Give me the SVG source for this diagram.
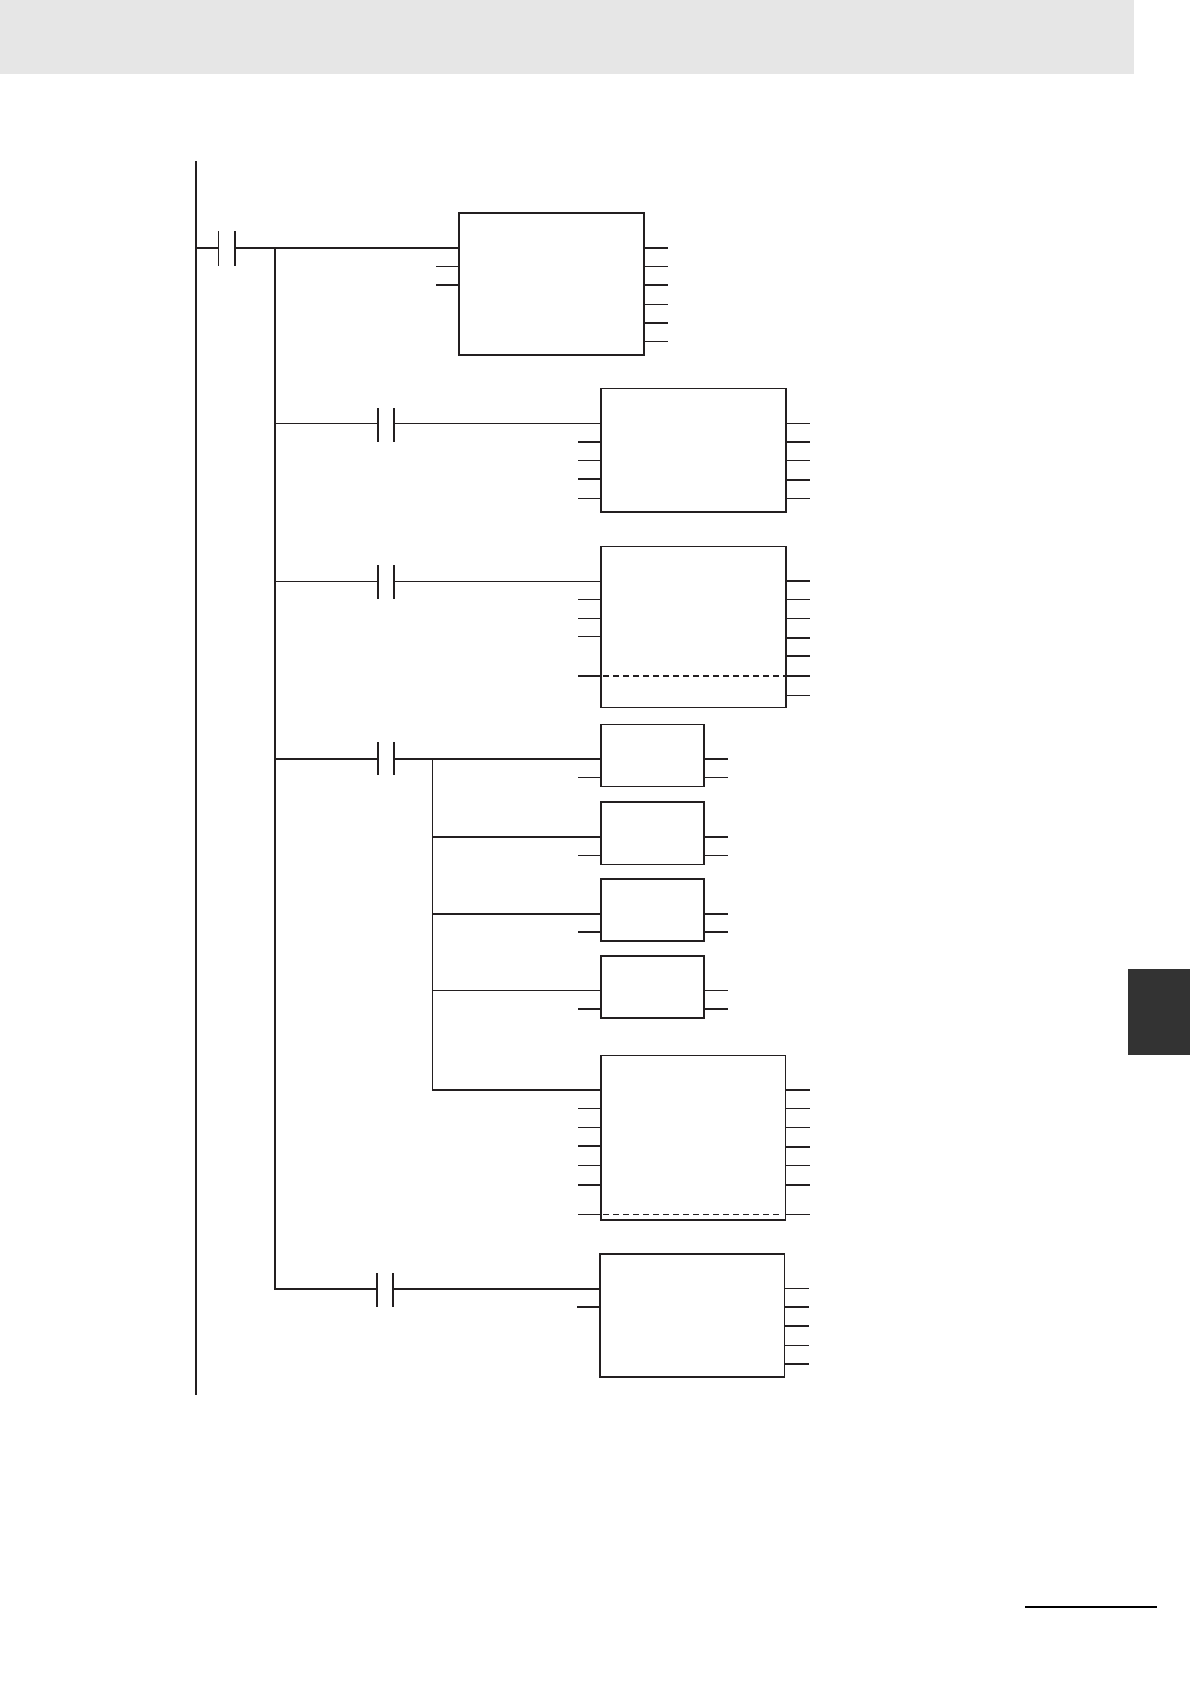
<svg xmlns="http://www.w3.org/2000/svg" width="1190" height="1684" viewBox="0 0 1190 1684">
<style>
line{fill:none;stroke:#231f20}
.n{stroke-width:1}
.k{stroke-width:2}
.s{stroke-linecap:square}
rect.f{fill:#fff;stroke:none}
.d{stroke-dasharray:6 4}
</style>
<rect width="1190" height="1684" fill="#fff"/>
<rect id="header-band" x="0" y="0" width="1134" height="74" fill="#e6e6e6"/>
<rect id="side-tab" x="1128" y="969" width="62" height="86" fill="#333333"/>
<line id="footer-rule" x1="1025" y1="1607" x2="1157" y2="1607" stroke-width="2" style="stroke:#000"/>
<g id="connectors">
<line class="k" x1="196" y1="161" x2="196" y2="1395"/>
<line class="k" x1="275" y1="247" x2="275" y2="1290"/>
<line class="n" x1="432.500" y1="759" x2="432.500" y2="1091"/>
<line class="k" x1="196" y1="248" x2="218" y2="248"/>
<line class="k" x1="235" y1="248" x2="459" y2="248"/>
<line class="n" x1="275" y1="423.500" x2="378" y2="423.500"/>
<line class="n" x1="394" y1="423.500" x2="601" y2="423.500"/>
<line class="n" x1="275" y1="581.500" x2="378" y2="581.500"/>
<line class="n" x1="394" y1="581.500" x2="601" y2="581.500"/>
<line class="k" x1="275" y1="759" x2="378" y2="759"/>
<line class="k" x1="394" y1="759" x2="601" y2="759"/>
<line class="k" x1="432" y1="837" x2="601" y2="837"/>
<line class="k" x1="432" y1="914" x2="601" y2="914"/>
<line class="n" x1="432" y1="990.500" x2="601" y2="990.500"/>
<line class="k" x1="432" y1="1090" x2="601" y2="1090"/>
<line class="k" x1="275" y1="1289" x2="377" y2="1289"/>
<line class="k" x1="393" y1="1289" x2="600" y2="1289"/>
</g>
<g id="contact-1"><line class="n" x1="218.500" y1="231" x2="218.500" y2="266"/><line class="k" x1="235" y1="231" x2="235" y2="266"/></g>
<g id="contact-2"><line class="k" x1="378" y1="408" x2="378" y2="442"/><line class="k" x1="394" y1="408" x2="394" y2="442"/></g>
<g id="contact-3"><line class="k" x1="378" y1="565" x2="378" y2="599"/><line class="k" x1="394" y1="565" x2="394" y2="599"/></g>
<g id="contact-4"><line class="k" x1="378" y1="742" x2="378" y2="775"/><line class="k" x1="394" y1="742" x2="394" y2="775"/></g>
<g id="contact-5"><line class="k" x1="377" y1="1273" x2="377" y2="1307"/><line class="k" x1="393" y1="1273" x2="393" y2="1307"/></g>
<g id="block-1">
<rect class="f" x="459" y="213" width="185" height="142"/>
<line class="k s" x1="459" y1="213" x2="644" y2="213"/><line class="k s" x1="459" y1="355" x2="644" y2="355"/><line class="k s" x1="459" y1="213" x2="459" y2="355"/><line class="k s" x1="644" y1="213" x2="644" y2="355"/>
<line class="n" x1="436" y1="266.500" x2="459" y2="266.500"/><line class="k" x1="436" y1="285" x2="459" y2="285"/>
<line class="k" x1="644" y1="248" x2="668" y2="248"/><line class="n" x1="644" y1="266.500" x2="668" y2="266.500"/><line class="k" x1="644" y1="285" x2="668" y2="285"/><line class="n" x1="644" y1="304.500" x2="668" y2="304.500"/><line class="k" x1="644" y1="323" x2="668" y2="323"/><line class="n" x1="644" y1="341.500" x2="668" y2="341.500"/>
</g>
<g id="block-2">
<rect class="f" x="601" y="389" width="185" height="123"/>
<line class="n" x1="600" y1="388.500" x2="787" y2="388.500"/><line class="k s" x1="601" y1="512" x2="786" y2="512"/><line class="k" x1="601" y1="388" x2="601" y2="512"/><line class="k" x1="786" y1="388" x2="786" y2="512"/>
<line class="k" x1="578" y1="442" x2="601" y2="442"/><line class="n" x1="578" y1="460.500" x2="601" y2="460.500"/><line class="k" x1="578" y1="479" x2="601" y2="479"/><line class="n" x1="578" y1="498.500" x2="601" y2="498.500"/>
<line class="n" x1="786" y1="423.500" x2="810" y2="423.500"/><line class="k" x1="786" y1="442" x2="810" y2="442"/><line class="n" x1="786" y1="460.500" x2="810" y2="460.500"/><line class="k" x1="786" y1="480" x2="810" y2="480"/><line class="n" x1="786" y1="498.500" x2="810" y2="498.500"/>
</g>
<g id="block-3">
<rect class="f" x="601" y="546" width="185" height="161"/>
<line class="n" x1="600" y1="546.500" x2="787" y2="546.500"/><line class="n" x1="600" y1="707.500" x2="787" y2="707.500"/><line class="k" x1="601" y1="546" x2="601" y2="708"/><line class="k" x1="786" y1="546" x2="786" y2="708"/>
<line class="k d" x1="603" y1="676" x2="785" y2="676"/>
<line class="n" x1="578" y1="599.500" x2="601" y2="599.500"/><line class="n" x1="578" y1="618.500" x2="601" y2="618.500"/><line class="n" x1="578" y1="636.500" x2="601" y2="636.500"/><line class="k" x1="578" y1="676" x2="601" y2="676"/>
<line class="k" x1="786" y1="581" x2="810" y2="581"/><line class="n" x1="786" y1="599.500" x2="810" y2="599.500"/><line class="n" x1="786" y1="618.500" x2="810" y2="618.500"/><line class="k" x1="786" y1="638" x2="810" y2="638"/><line class="k" x1="786" y1="656" x2="810" y2="656"/><line class="k" x1="786" y1="676" x2="810" y2="676"/><line class="n" x1="786" y1="695.500" x2="810" y2="695.500"/>
</g>
<g id="block-4a">
<rect class="f" x="601" y="724" width="103" height="62"/>
<line class="n" x1="600" y1="724.500" x2="705" y2="724.500"/><line class="n" x1="600" y1="786.500" x2="705" y2="786.500"/><line class="k" x1="601" y1="724" x2="601" y2="787"/><line class="k" x1="704" y1="724" x2="704" y2="787"/>
<line class="n" x1="578" y1="777.500" x2="601" y2="777.500"/>
<line class="k" x1="704" y1="759" x2="728" y2="759"/><line class="n" x1="704" y1="777.500" x2="728" y2="777.500"/>
</g>
<g id="block-4b">
<rect class="f" x="601" y="802" width="103" height="62"/>
<line class="k s" x1="601" y1="802" x2="704" y2="802"/><line class="n" x1="600" y1="864.500" x2="705" y2="864.500"/><line class="k" x1="601" y1="801" x2="601" y2="865"/><line class="k" x1="704" y1="801" x2="704" y2="865"/>
<line class="n" x1="578" y1="855.500" x2="601" y2="855.500"/>
<line class="k" x1="704" y1="837" x2="728" y2="837"/><line class="n" x1="704" y1="855.500" x2="728" y2="855.500"/>
</g>
<g id="block-4c">
<rect class="f" x="601" y="879" width="103" height="62"/>
<line class="k s" x1="601" y1="879" x2="704" y2="879"/><line class="k s" x1="601" y1="941" x2="704" y2="941"/><line class="k s" x1="601" y1="879" x2="601" y2="941"/><line class="k s" x1="704" y1="879" x2="704" y2="941"/>
<line class="k" x1="578" y1="932" x2="601" y2="932"/>
<line class="k" x1="704" y1="914" x2="728" y2="914"/><line class="k" x1="704" y1="932" x2="728" y2="932"/>
</g>
<g id="block-4d">
<rect class="f" x="601" y="956" width="103" height="62"/>
<line class="k s" x1="601" y1="956" x2="704" y2="956"/><line class="k s" x1="601" y1="1018" x2="704" y2="1018"/><line class="k s" x1="601" y1="956" x2="601" y2="1018"/><line class="k s" x1="704" y1="956" x2="704" y2="1018"/>
<line class="k" x1="578" y1="1009" x2="601" y2="1009"/>
<line class="n" x1="704" y1="990.500" x2="728" y2="990.500"/><line class="k" x1="704" y1="1009" x2="728" y2="1009"/>
</g>
<g id="block-4e">
<rect class="f" x="601" y="1056" width="184" height="164"/>
<line class="n" x1="600" y1="1055.500" x2="786" y2="1055.500"/><line class="k s" x1="601" y1="1220" x2="785" y2="1220"/><line class="k" x1="601" y1="1055" x2="601" y2="1221"/><line class="n" x1="785.500" y1="1055" x2="785.500" y2="1221"/>
<line class="n d" x1="603" y1="1214.500" x2="783" y2="1214.500"/>
<line class="n" x1="578" y1="1108.500" x2="601" y2="1108.500"/><line class="n" x1="578" y1="1127.500" x2="601" y2="1127.500"/><line class="k" x1="578" y1="1146" x2="601" y2="1146"/><line class="n" x1="578" y1="1165.500" x2="601" y2="1165.500"/><line class="k" x1="578" y1="1185" x2="601" y2="1185"/><line class="n" x1="578" y1="1214.500" x2="601" y2="1214.500"/>
<line class="k" x1="785" y1="1090" x2="810" y2="1090"/><line class="n" x1="785" y1="1108.500" x2="810" y2="1108.500"/><line class="n" x1="785" y1="1127.500" x2="810" y2="1127.500"/><line class="k" x1="785" y1="1147" x2="810" y2="1147"/><line class="n" x1="785" y1="1165.500" x2="810" y2="1165.500"/><line class="k" x1="785" y1="1185" x2="810" y2="1185"/><line class="n" x1="785" y1="1214.500" x2="810" y2="1214.500"/>
</g>
<g id="block-5">
<rect class="f" x="600" y="1254" width="184" height="123"/>
<line class="k s" x1="600" y1="1254" x2="784" y2="1254"/><line class="k s" x1="600" y1="1377" x2="784" y2="1377"/><line class="k s" x1="600" y1="1254" x2="600" y2="1377"/><line class="n" x1="784.500" y1="1253" x2="784.500" y2="1378"/>
<line class="k" x1="577" y1="1307" x2="600" y2="1307"/>
<line class="n" x1="784" y1="1288.500" x2="809" y2="1288.500"/><line class="k" x1="784" y1="1307" x2="809" y2="1307"/><line class="k" x1="784" y1="1326" x2="809" y2="1326"/><line class="n" x1="784" y1="1345.500" x2="809" y2="1345.500"/><line class="k" x1="784" y1="1364" x2="809" y2="1364"/>
</g>
</svg>
